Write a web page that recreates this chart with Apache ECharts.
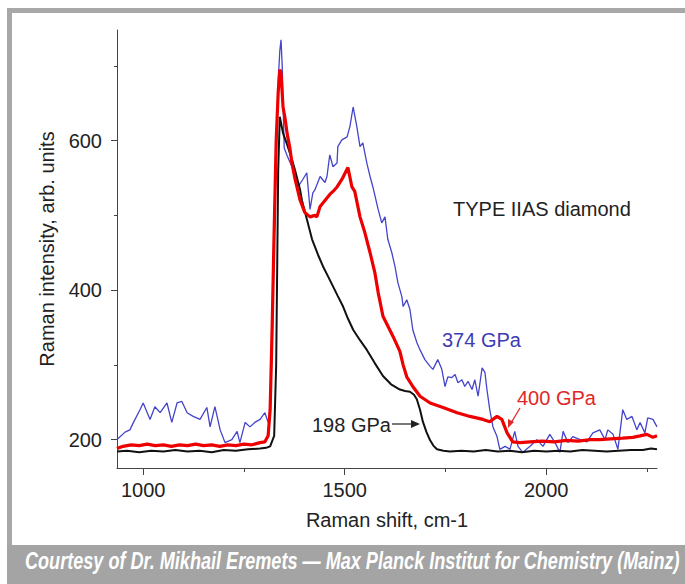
<!DOCTYPE html>
<html>
<head>
<meta charset="utf-8">
<script src="https://cdn.jsdelivr.net/npm/echarts@6/dist/echarts.min.js"></script>
<style>
  html, body { margin: 0; padding: 0; background: #fff; }
  #chart { width: 685px; height: 584px; }
</style>
</head>
<body>
<div id="chart"></div>
<script>
// 198 GPa (black)
const blackShift = [935, 960, 990, 1020, 1050, 1080, 1110, 1140, 1170, 1200, 1230, 1260, 1290, 1305, 1315, 1325, 1330, 1335, 1339, 1347, 1357, 1369, 1377, 1389, 1394, 1406, 1419, 1434, 1446, 1459, 1471, 1483, 1496, 1508, 1521, 1538, 1555, 1575, 1595, 1615, 1637, 1650, 1662, 1672, 1679, 1687, 1694, 1703, 1712, 1720, 1729, 1745, 1761, 1790, 1820, 1850, 1880, 1910, 1940, 1970, 2000, 2030, 2060, 2090, 2120, 2150, 2180, 2210, 2240, 2260, 2275]
const blackInt = [184, 185, 183, 185, 184, 186, 184, 185, 183, 186, 185, 187, 188, 189, 191, 205, 300, 560, 632, 610, 595, 575, 560, 535, 520, 495, 468, 447, 432, 418, 405, 392, 378, 362, 347, 333, 320, 302, 285, 274, 267, 265, 264, 260, 254, 240, 224, 210, 199, 192, 187, 185, 184, 185, 184, 186, 184, 185, 183, 185, 184, 185, 184, 186, 185, 184, 185, 186, 186, 188, 187]

// 400 GPa (red)
const redShift = [935, 950, 970, 990, 1010, 1030, 1050, 1070, 1090, 1110, 1130, 1150, 1170, 1190, 1210, 1230, 1250, 1270, 1290, 1302, 1310, 1315, 1320, 1325, 1330, 1335, 1339, 1342, 1347, 1352, 1357, 1364, 1369, 1377, 1389, 1401, 1414, 1426, 1431, 1439, 1451, 1463, 1471, 1481, 1493, 1508, 1518, 1525, 1538, 1550, 1563, 1575, 1583, 1595, 1620, 1637, 1645, 1654, 1669, 1687, 1712, 1744, 1779, 1811, 1843, 1860, 1870, 1878, 1890, 1903, 1917, 1935, 1960, 1990, 2020, 2050, 2080, 2110, 2133, 2160, 2190, 2215, 2233, 2250, 2265, 2275]
const redInt = [188, 191, 193, 192, 194, 192, 193, 191, 193, 192, 194, 192, 193, 191, 193, 192, 194, 193, 196, 197, 205, 240, 350, 480, 600, 665, 695, 690, 645, 630, 610, 590, 570, 548, 521, 504, 498, 500, 498, 512, 520, 528, 532, 538, 548, 564, 538, 532, 498, 477, 450, 423, 397, 365, 338, 318, 300, 284, 271, 258, 249, 243, 236, 231, 227, 224, 228, 231, 227, 209, 197, 196, 197, 198, 197, 199, 198, 200, 200, 201, 202, 203, 205, 207, 203, 205]

// 374 GPa (blue)
const blueShift = [935, 955, 967, 975, 992, 1000, 1017, 1029, 1042, 1059, 1071, 1084, 1096, 1109, 1124, 1141, 1158, 1166, 1178, 1191, 1203, 1220, 1233, 1240, 1253, 1265, 1277, 1290, 1302, 1310, 1315, 1320, 1325, 1330, 1335, 1339, 1342, 1345, 1347, 1350, 1357, 1369, 1377, 1384, 1396, 1406, 1414, 1421, 1426, 1439, 1451, 1456, 1463, 1471, 1481, 1483, 1493, 1506, 1513, 1521, 1530, 1538, 1545, 1555, 1563, 1570, 1583, 1592, 1600, 1607, 1617, 1625, 1632, 1642, 1645, 1654, 1662, 1669, 1679, 1687, 1699, 1712, 1719, 1731, 1741, 1749, 1756, 1766, 1774, 1781, 1791, 1798, 1806, 1816, 1823, 1831, 1841, 1848, 1853, 1860, 1868, 1878, 1885, 1898, 1910, 1922, 1930, 1942, 1960, 1977, 1992, 2009, 2022, 2034, 2042, 2054, 2066, 2084, 2101, 2116, 2133, 2146, 2153, 2166, 2178, 2190, 2200, 2213, 2225, 2233, 2245, 2252, 2265, 2275]
const blueInt = [200, 210, 213, 222, 240, 249, 227, 244, 236, 249, 223, 249, 251, 236, 231, 227, 243, 217, 244, 213, 196, 200, 211, 196, 223, 217, 223, 227, 236, 223, 240, 320, 460, 580, 680, 720, 735, 700, 650, 590, 580, 565, 557, 538, 548, 557, 508, 530, 534, 552, 544, 552, 581, 565, 570, 592, 601, 605, 619, 645, 619, 592, 597, 570, 552, 538, 508, 490, 498, 468, 450, 431, 410, 391, 378, 387, 374, 347, 330, 320, 307, 298, 294, 307, 294, 271, 284, 283, 287, 276, 280, 271, 278, 267, 280, 258, 296, 290, 267, 240, 217, 204, 187, 191, 187, 211, 191, 183, 191, 200, 191, 207, 196, 183, 211, 196, 204, 200, 197, 209, 213, 200, 213, 207, 187, 240, 227, 231, 213, 223, 209, 229, 227, 217]

const xLabels = [1000, 1500, 2000]
const xMinorTicks = [1250, 1750, 2250]
const yLabels = [200, 400, 600]
const yMinorTicks = [300, 500, 700]

const caption = 'Courtesy of Dr. Mikhail Eremets \u2014 Max Planck Institut for Chemistry (Mainz)'

const font = 'Liberation Sans, Arial, sans-serif'
const axisColor = '#444'

function pairs(xs, ys) {
  return xs.map(function(x, i) { return [x, ys[i]] })
}

// caption is a condensed face in the original; squeeze a normal one to the same width
const capFontSize = 23
const ctx = document.createElement('canvas').getContext('2d')
ctx.font = 'italic bold ' + capFontSize + 'px "Liberation Sans"'
const capScale = 655 / ctx.measureText(caption).width

const chart = echarts.init(document.getElementById('chart'), null, { renderer: 'svg' })

chart.setOption({
  animation: false,
  backgroundColor: '#fff',
  grid: { left: 117, right: 28, top: 30, bottom: 116 },
  xAxis: [{
    type: 'value',
    min: 935,
    max: 2275,
    name: 'Raman shift, cm-1',
    nameLocation: 'middle',
    nameGap: 42,
    nameTextStyle: { fontFamily: font, fontSize: 20, color: '#222' },
    axisLine: { lineStyle: { color: axisColor, width: 1 } },
    axisTick: { customValues: xLabels, length: 7, lineStyle: { color: axisColor } },
    axisLabel: {
      customValues: xLabels, margin: 12, fontFamily: font, fontSize: 20, color: '#222',
      formatter: function(v) { return String(v) }
    },
    splitLine: { show: false }
  }, {
    type: 'value',
    position: 'bottom',
    min: 935,
    max: 2275,
    axisLine: { show: false },
    axisTick: { customValues: xMinorTicks, length: 4, lineStyle: { color: axisColor } },
    axisLabel: { show: false },
    splitLine: { show: false }
  }],
  yAxis: [{
    type: 'value',
    min: 162,
    max: 748,
    name: 'Raman intensity, arb. units',
    nameLocation: 'middle',
    nameGap: 60,
    nameTextStyle: { fontFamily: font, fontSize: 20, color: '#222' },
    axisLine: { show: true, lineStyle: { color: axisColor, width: 1 } },
    axisTick: { show: true, customValues: yLabels, length: 6, lineStyle: { color: axisColor } },
    axisLabel: { customValues: yLabels, margin: 15, fontFamily: font, fontSize: 20, color: '#222' },
    splitLine: { show: false }
  }, {
    type: 'value',
    position: 'left',
    min: 162,
    max: 748,
    axisLine: { show: false },
    axisTick: { show: true, customValues: yMinorTicks, length: 3, lineStyle: { color: axisColor } },
    axisLabel: { show: false },
    splitLine: { show: false }
  }],
  series: [{
    name: '374 GPa',
    type: 'line',
    data: pairs(blueShift, blueInt),
    showSymbol: false,
    lineStyle: { color: '#4444cc', width: 1.3 },
    z: 2
  }, {
    name: '198 GPa',
    type: 'line',
    data: pairs(blackShift, blackInt),
    showSymbol: false,
    lineStyle: { color: '#111', width: 2 },
    z: 3
  }, {
    name: '400 GPa',
    type: 'line',
    data: pairs(redShift, redInt),
    showSymbol: false,
    lineStyle: { color: '#ee0000', width: 3.2 },
    z: 4
  }],
  graphic: [
    // frame and caption band
    { type: 'rect', shape: { x: 7, y: 8, width: 678, height: 5 }, style: { fill: '#a8a8a8' } },
    { type: 'rect', shape: { x: 7, y: 8, width: 5, height: 576 }, style: { fill: '#a8a8a8' } },
    { type: 'rect', shape: { x: 7, y: 545, width: 678, height: 39 }, style: { fill: '#a4a4a4' } },
    {
      type: 'text', x: 25, y: 549, scaleX: capScale,
      style: {
        text: caption, fill: '#fff', fontFamily: 'Liberation Sans',
        fontSize: capFontSize, fontWeight: 'bold', fontStyle: 'italic'
      }
    },
    // annotations
    { type: 'text', left: 453, top: 199, style: { text: 'TYPE IIAS diamond', fill: '#222', fontFamily: font, fontSize: 20 } },
    { type: 'text', left: 442, top: 330, style: { text: '374 GPa', fill: '#3c3cb4', fontFamily: font, fontSize: 20 } },
    { type: 'text', left: 517, top: 388, style: { text: '400 GPa', fill: '#e02828', fontFamily: font, fontSize: 20 } },
    { type: 'text', left: 312, top: 415, style: { text: '198 GPa', fill: '#222', fontFamily: font, fontSize: 20 } },
    { type: 'line', shape: { x1: 392, y1: 424, x2: 414, y2: 424 }, style: { stroke: '#222', lineWidth: 1.2 } },
    { type: 'polygon', shape: { points: [[420, 424], [411, 420], [411, 428]] }, style: { fill: '#222' } },
    { type: 'line', shape: { x1: 520, y1: 408, x2: 511, y2: 423 }, style: { stroke: '#e02828', lineWidth: 1.3 } },
    { type: 'polygon', shape: { points: [[508, 428], [508, 419], [514, 422]] }, style: { fill: '#e02828' } }
  ]
})
</script>
</body>
</html>
